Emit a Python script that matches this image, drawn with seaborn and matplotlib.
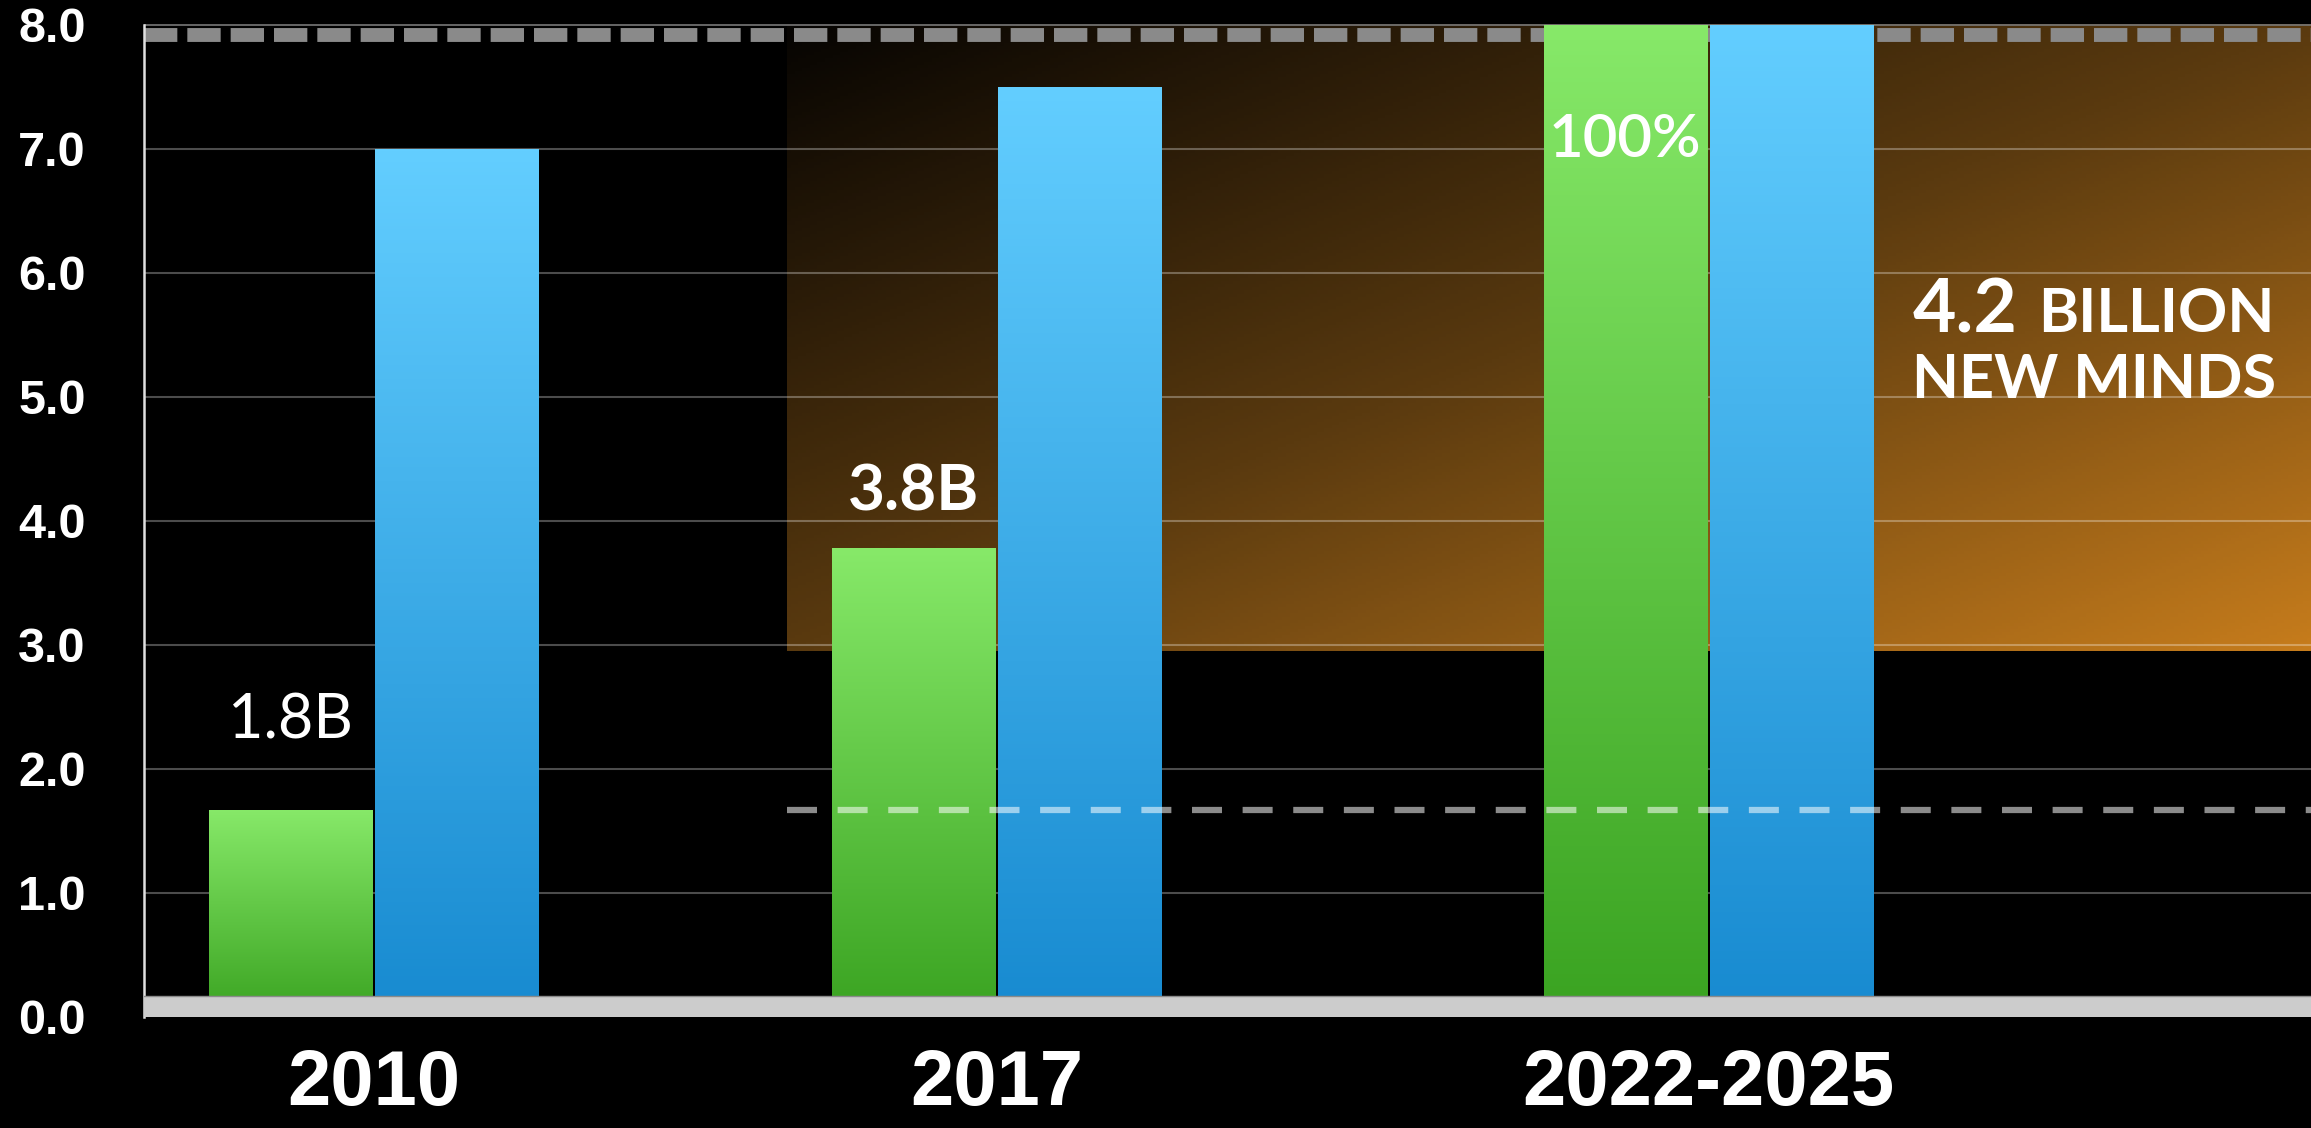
import matplotlib
matplotlib.use("Agg")
import matplotlib.pyplot as plt
import seaborn as sns
import numpy as np
import pandas as pd
from matplotlib.colors import LinearSegmentedColormap

# --- datos (miles de millones) ---
YEARS = [2010, 2017, 2025]
YEAR_LABELS = ["2010", "2017", "2022-2025"]
SERIES = ["Connected", "Population"]
CONNECTED = [1.67, 3.78, 8.0]
POPULATION = [7.0, 7.5, 8.0]
BAR_LABELS = ["1.8B", "3.8B", "100%"]
Y_TICKS = [0, 1, 2, 3, 4, 5, 6, 7, 8]
CALLOUT = ["4.2", "BILLION", "NEW MINDS"]

# --- estilo / posiciones (no son datos) ---
BG = "black"
GRADS = [("#3aa321", "#87e969"), ("#178ad0", "#63ceff")]
LABEL_DY = [0.72, 0.45, -0.93]
LABEL_WEIGHT = ["normal", "bold", "semibold"]
LABEL_SIZE = [44, 46, 43]
HL_X0 = 2014.65
XMIN, XMAX = 2007.42, 2031.77
YMAX = 8.12

df = pd.DataFrame({
    "year": YEARS * 2,
    "series": [SERIES[0]] * len(YEARS) + [SERIES[1]] * len(YEARS),
    "value": CONNECTED + POPULATION,
})

fig = plt.figure(figsize=(23.11, 11.28), dpi=100, facecolor=BG)
ax = fig.add_axes([144 / 2311, 111 / 1128, 1 - 144 / 2311, 1007 / 1128])
ax.set_facecolor(BG)

sns.barplot(data=df, x="year", y="value", hue="series", native_scale=True,
            palette=[GRADS[0][1], GRADS[1][1]], width=0.534, gap=0.02,
            saturation=1, errorbar=None, legend=False, ax=ax, zorder=2)

# degradado vertical en cada barra
ramp = np.linspace(0, 1, 256).reshape(-1, 1)
for cont, (bot, top) in zip(ax.containers, GRADS):
    cmap = LinearSegmentedColormap.from_list("", [bot, top])
    for bar in cont:
        x0, y0, w, h = bar.get_x(), bar.get_y(), bar.get_width(), bar.get_height()
        im = ax.imshow(ramp, cmap=cmap, extent=[x0, x0 + w, y0, y0 + h],
                       origin="lower", aspect="auto", zorder=2.1)
        im.set_clip_path(bar)

# zona naranja
ny, nx = 200, 400
u = np.linspace(0, 1, nx)[None, :]
v = np.linspace(0, 1, ny)[:, None]
orange = LinearSegmentedColormap.from_list("", ["#060402", "#5a3a0f", "#c67c1c"])
ax.imshow((u + v) / 2, cmap=orange, extent=[HL_X0, XMAX, 2.95, 8.0],
          origin="upper", aspect="auto", zorder=0.3, vmin=0, vmax=1)

# lineas de cuadricula
for t in Y_TICKS[1:-1]:
    ax.axhline(t, color="white", alpha=0.3, lw=1.5, zorder=1)

# banda discontinua superior
ax.axhline(8.0, color="#777777", lw=1.2, zorder=1.4)
ax.axhline(7.92, color="#8a8a8a", lw=10, ls=(0, (2.4, 0.72)), zorder=1.5)

# linea discontinua al nivel de 2010
ax.hlines(CONNECTED[0], HL_X0, XMAX, colors="white", alpha=0.55, lw=4.5,
          linestyles=(0, (4.8, 3.3)), zorder=3)

# eje inferior gris grueso
ax.axhspan(0, 0.17, facecolor="#cccccc", edgecolor="none", zorder=4)
ax.axhline(0.17, color="#8a8a8a", lw=1, zorder=4.1)

# etiquetas de barra
for bar, lab, dy, wt, fs, val in zip(ax.containers[0], BAR_LABELS, LABEL_DY,
                                     LABEL_WEIGHT, LABEL_SIZE, CONNECTED):
    ax.text(bar.get_x() + bar.get_width() / 2, val + dy, lab, color="white",
            ha="center", va="center", fontsize=fs, fontweight=wt,
            family=["Lato", "DejaVu Sans"], zorder=5)

# texto de llamada
ax.text(2027.29, 5.52, CALLOUT[0], color="white", fontsize=54, fontweight="bold",
        family=["Lato", "DejaVu Sans"], ha="left", va="baseline", zorder=5)
ax.text(2028.70, 5.52, CALLOUT[1], color="white", fontsize=44, fontweight="bold",
        family=["Lato", "DejaVu Sans"], ha="left", va="baseline", zorder=5)
ax.text(2027.29, 4.99, CALLOUT[2], color="white", fontsize=44, fontweight="bold",
        family=["Lato", "DejaVu Sans"], ha="left", va="baseline", zorder=5)

# ejes
ax.set_xlim(XMIN, XMAX)
ax.set_ylim(0, YMAX)
ax.set_yticks(Y_TICKS, [f"{t:.1f}" for t in Y_TICKS])
ax.set_xticks(YEARS, YEAR_LABELS)
ax.set_xlabel("")
ax.set_ylabel("")
ax.tick_params(axis="y", length=0, pad=42, labelsize=35, labelcolor="white")
ax.tick_params(axis="x", length=0, pad=22, labelsize=56, labelcolor="white")
for lab in ax.get_xticklabels() + ax.get_yticklabels():
    lab.set_fontweight("bold")
    lab.set_family(["Liberation Sans", "DejaVu Sans"])

for s in ["top", "right", "bottom"]:
    ax.spines[s].set_visible(False)
ax.spines["left"].set_color("#e0e0e0")
ax.spines["left"].set_linewidth(1.8)
ax.spines["left"].set_bounds(0, 8)
ax.spines["left"].set_zorder(3)

fig.savefig("out.png", dpi=100, facecolor=BG)
